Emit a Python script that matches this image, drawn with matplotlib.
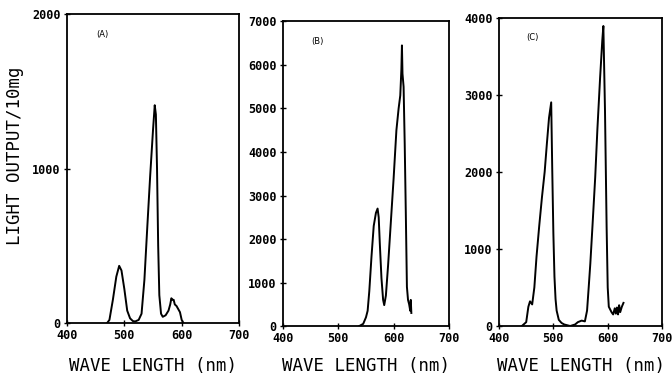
import matplotlib
matplotlib.use("Agg")
import matplotlib.pyplot as plt

# panel A
wl_a = [470, 474, 480, 486, 491, 495, 500, 505, 510, 515, 519, 525, 530, 535,
        540, 545, 550, 553, 555, 557, 559, 561, 564, 567, 572, 577, 580, 582,
        584, 586, 588, 591, 594, 597, 600, 603]
lo_a = [0, 20, 150, 300, 370, 340, 220, 80, 30, 12, 10, 20, 60, 280,
        620, 950, 1250, 1410, 1350, 1000, 500, 180, 60, 40, 50, 80, 120, 160,
        150, 150, 120, 110, 90, 70, 20, 0]

# panel B
wl_b = [538, 545, 550, 553, 556, 560, 564, 568, 571, 573, 575, 578, 581, 583,
        586, 590, 595, 600, 605, 609, 612, 614, 615, 616, 618, 620, 622, 624,
        626, 628, 630, 631, 632]
lo_b = [0, 50, 200, 350, 800, 1600, 2300, 2600, 2700, 2500, 1900, 1100, 600, 480,
        700, 1400, 2400, 3400, 4500, 5000, 5300, 5900, 6450, 5800, 5500, 4200, 2600, 900,
        600, 500, 350, 600, 300]

# panel C
wl_c = [442, 450, 454, 457, 461, 465, 469, 474, 479, 484, 488, 492, 496, 498,
        500, 502, 504, 506, 510, 515, 520, 531, 540, 545, 552, 558, 562, 565,
        568, 572, 577, 581, 586, 590, 592, 595, 598, 600, 602, 607, 610, 613,
        615, 617, 619, 621, 623, 626, 629]
lo_c = [0, 50, 250, 320, 280, 500, 900, 1300, 1670, 2000, 2360, 2700, 2900, 2000,
        1200, 640, 350, 200, 80, 40, 20, 0, 20, 50, 70, 60, 200, 500,
        810, 1300, 1930, 2550, 3220, 3700, 3890, 2790, 1280, 500, 250, 180, 150, 230,
        160, 240, 150, 270, 180, 250, 300]

panels = [
    ("(A)", wl_a, lo_a, 2000, [0, 1000, 2000], [0.0997, 0.1478, 0.256, 0.815]),
    ("(B)", wl_b, lo_b, 7000, list(range(0, 7001, 1000)), [0.4211, 0.1398, 0.247, 0.8035]),
    ("(C)", wl_c, lo_c, 4000, list(range(0, 4001, 1000)), [0.7426, 0.1398, 0.2426, 0.814]),
]

mono = "DejaVu Sans Mono"
fig = plt.figure(figsize=(6.72, 3.79), dpi=100)

for tag, x, y, ymax, yt, rect in panels:
    ax = fig.add_axes(rect)
    ax.plot(x, y, color="black", lw=1.4)
    ax.set_xlim(400, 700)
    ax.set_ylim(0, ymax)
    ax.set_xticks([400, 500, 600, 700])
    ax.set_yticks(yt)
    ax.tick_params(direction="inout", length=5, width=1.0, pad=2)
    for s in ax.spines.values():
        s.set_linewidth(1.3)
    for lab in ax.get_xticklabels() + ax.get_yticklabels():
        lab.set_fontfamily(mono)
        lab.set_fontweight("bold")
        lab.set_fontsize(8.5)
    # x label at the same height under every panel
    fig.text(rect[0] + rect[2] / 2, 0.035, "WAVE LENGTH (nm)", family=mono,
             fontsize=12.5, ha="center", va="center")
    ax.text(0.17, 0.95, tag, transform=ax.transAxes, fontsize=6,
            family="DejaVu Sans", va="top")

fig.text(0.022, 0.59, "LIGHT OUTPUT/10mg", rotation=90, family=mono,
         fontsize=12.5, ha="center", va="center")

fig.savefig("out.png", dpi=100)
